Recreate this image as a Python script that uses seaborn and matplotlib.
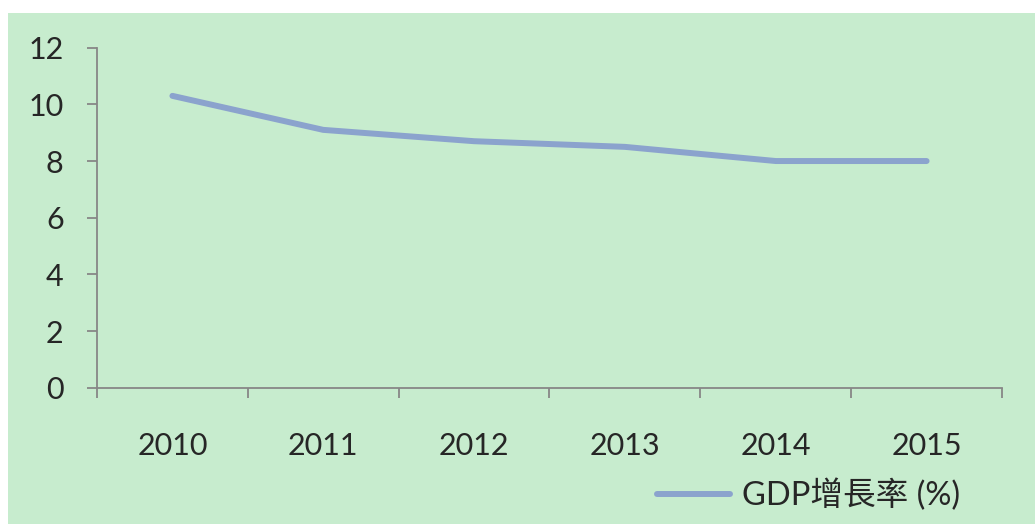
import pandas as pd
import seaborn as sns
import matplotlib.pyplot as plt
from matplotlib.patches import Rectangle
from matplotlib.ticker import FixedLocator, MultipleLocator

# datos
years = ['2010', '2011', '2012', '2013', '2014', '2015']
gdp_growth = [10.3, 9.1, 8.7, 8.5, 8.0, 8.0]
series_label = 'GDP增長率 (%)'

df = pd.DataFrame({'year': years, 'value': gdp_growth})

sns.set_style('white')
plt.rcParams['font.family'] = ['Lato', 'Noto Sans CJK TC', 'DejaVu Sans']

bg = '#C7ECCE'
axis_grey = '#878787'
fs = 22

fig = plt.figure(figsize=(10.35, 5.24), dpi=100)
fig.patch.set_facecolor('white')
fig.patches.append(Rectangle((8 / 1035, 0), 1 - 8 / 1035, 1 - 13 / 524,
                             transform=fig.transFigure, facecolor=bg,
                             edgecolor='none', zorder=-10))

ax = fig.add_axes([97 / 1035, 136.3 / 524, (1002 - 97) / 1035, (387.7 - 47.7) / 524])
ax.set_facecolor('none')

sns.lineplot(data=df, x='year', y='value', ax=ax, color='#8BA3CD',
             linewidth=4.3, solid_capstyle='round', label=series_label)

ax.set_xlim(-0.5, len(years) - 0.5)
ax.set_ylim(0, 12)
ax.yaxis.set_major_locator(MultipleLocator(2))

# marcas de categoria entre los anos, etiquetas en el centro
ax.xaxis.set_major_locator(FixedLocator([i - 0.5 for i in range(len(years) + 1)]))
ax.xaxis.set_minor_locator(FixedLocator(list(range(len(years)))))
ax.set_xticklabels([], minor=False)
ax.set_xticklabels(years, minor=True)
ax.tick_params(axis='x', which='major', length=7, width=1.3, color=axis_grey, direction='out')
ax.tick_params(axis='x', which='minor', length=0, pad=32, labelsize=fs)
ax.tick_params(axis='y', length=7, width=1.3, color=axis_grey, direction='out',
               pad=17, labelsize=fs)
ax.tick_params(bottom=True, left=True, which='both')

for side in ['top', 'right']:
    ax.spines[side].set_visible(False)
for side in ['left', 'bottom']:
    ax.spines[side].set_color(axis_grey)
    ax.spines[side].set_linewidth(1.3)

ax.set_xlabel('')
ax.set_ylabel('')

ax.legend(loc='center left', bbox_to_anchor=(657 / 1035, 1 - 495 / 524),
          bbox_transform=fig.transFigure, frameon=False, fontsize=23.5,
          handlelength=2.25, handletextpad=0.35, borderaxespad=0, borderpad=0)

plt.savefig('out.png', dpi=100, facecolor=fig.get_facecolor())
